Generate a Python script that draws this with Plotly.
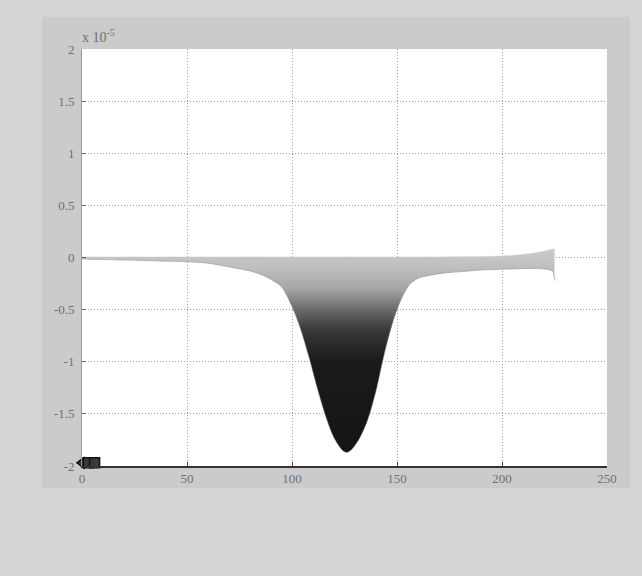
import plotly.graph_objects as go

# values are in units of 1e-5
x_vals = [0, 10, 20, 30, 40, 50, 60, 70, 80, 86, 90, 95, 100, 104, 108, 112, 116, 120, 124, 126,
          128, 132, 136, 140, 144, 148, 152, 156, 160, 166, 172, 181, 190, 197, 205, 213, 220, 224, 225]
upper_e5 = [0.005, 0.005, 0.005, 0.005, 0.005, 0.005, 0.005, 0.005, 0.005, 0.005, 0.005, 0.005, 0.005,
            0.005, 0.005, 0.005, 0.005, 0.005, 0.005, 0.005, 0.005, 0.005, 0.005, 0.005, 0.005, 0.005,
            0.005, 0.005, 0.005, 0.005, 0.005, 0.006, 0.008, 0.012, 0.02, 0.035, 0.06, 0.08, 0.08]
lower_e5 = [-0.015, -0.02, -0.025, -0.03, -0.035, -0.04, -0.055, -0.09, -0.13, -0.17, -0.21, -0.28,
            -0.47, -0.68, -0.95, -1.25, -1.52, -1.73, -1.85, -1.87, -1.85, -1.74, -1.56, -1.28, -0.92,
            -0.62, -0.40, -0.26, -0.20, -0.17, -0.15, -0.135, -0.12, -0.115, -0.11, -0.105, -0.11,
            -0.13, -0.22]

blob_x = [0, 3, 6]
blob_y = [-1.97, -1.97, -1.97]

x_ticks = [0, 50, 100, 150, 200, 250]
y_ticks = [-2, -1.5, -1, -0.5, 0, 0.5, 1, 1.5, 2]
y_tick_text = ["-2", "-1.5", "-1", "-0.5", "0", "0.5", "1", "1.5", "2"]

fig = go.Figure()
fig.add_trace(go.Scatter(x=x_vals, y=upper_e5, mode="lines", line=dict(width=0.5, color="#c8c8c8", shape="spline"),
                         showlegend=False, hoverinfo="skip"))
fig.add_trace(go.Scatter(
    x=x_vals, y=lower_e5, mode="lines", fill="tonexty",
    line=dict(width=0.5, color="#888888", shape="spline", smoothing=0.8),
    fillgradient=dict(type="vertical", start=-1.9, stop=0.1,
                      colorscale=[[0, "#141414"], [0.45, "#1a1a1a"], [0.6, "#383838"], [0.7, "#6a6a6a"],
                                  [0.8, "#a6a6a6"], [0.9, "#bebebe"], [1, "#cdcdcd"]]),
    showlegend=False))
fig.add_trace(go.Scatter(x=blob_x, y=blob_y, mode="markers", cliponaxis=False,
                         marker=dict(symbol=["triangle-left", "square", "square"], size=10, color="#3a3a3a",
                                     line=dict(color="#111111", width=1.5)),
                         showlegend=False))

font = dict(family="Liberation Serif", size=13, color="#707070")
fig.update_layout(
    width=642, height=576,
    margin=dict(l=82, r=35, t=49, b=110),
    paper_bgcolor="#d4d4d4", plot_bgcolor="white",
    font=font,
    shapes=[
        dict(type="rect", xref="paper", yref="paper", x0=-0.0762, x1=1.0438, y0=-0.0528, y1=1.0767,
             fillcolor="#cbcbcb", line=dict(width=0), layer="below"),
        dict(type="rect", xref="paper", yref="paper", x0=0, x1=1, y0=0, y1=1,
             fillcolor="white", line=dict(width=0), layer="below"),
    ],
    xaxis=dict(range=[0, 250], tickvals=x_ticks, ticks="inside", ticklen=4, tickcolor="#444",
               showline=True, linecolor="#333333", linewidth=1.5, showgrid=True, gridcolor="#a0a0a0",
               griddash="1px,2px", gridwidth=1, zeroline=False, tickfont=font),
    yaxis=dict(range=[-2, 2], tickvals=y_ticks, ticktext=y_tick_text, ticks="inside", ticklen=4,
               tickcolor="#666", showline=True, linecolor="#999999", linewidth=1, showgrid=True,
               gridcolor="#a0a0a0", griddash="1px,2px", gridwidth=1, zeroline=False, tickfont=font,
               ticklabelstandoff=4),
    annotations=[dict(xref="paper", yref="paper", x=0, y=1, xanchor="left", yanchor="bottom",
                      text="x 10<sup>-5</sup>", showarrow=False,
                      font=dict(family="Liberation Serif", size=14, color="#707070"), xshift=-2, yshift=2)],
)
fig.write_html("out.html", config={"displayModeBar": False},
               post_script="document.body.style.margin='0';document.body.style.background='#d4d4d4';")
